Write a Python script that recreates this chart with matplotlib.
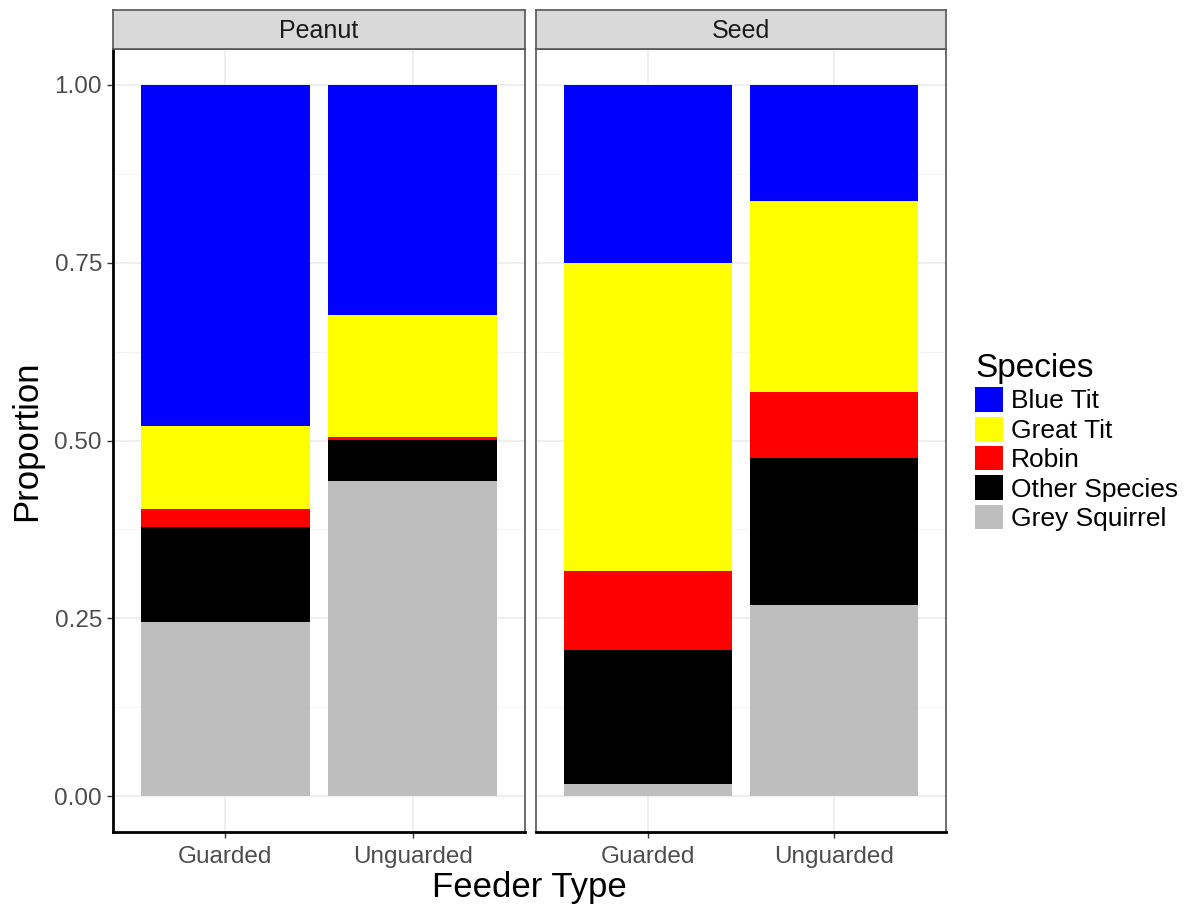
import numpy as np
import matplotlib.pyplot as plt
from matplotlib.patches import Patch

plt.rcParams['font.family'] = ['Liberation Sans', 'DejaVu Sans']

# data (proportions, bottom to top)
feeders = ["Guarded", "Unguarded"]
foods = ["Peanut", "Seed"]
species = ["Grey Squirrel", "Other Species", "Robin", "Great Tit", "Blue Tit"]
colors = ["#BEBEBE", "#000000", "#FF0000", "#FFFF00", "#0000FF"]

peanut_guarded = [0.245, 0.133, 0.026, 0.116, 0.480]
peanut_unguarded = [0.443, 0.058, 0.004, 0.172, 0.323]
seed_guarded = [0.017, 0.188, 0.111, 0.434, 0.250]
seed_unguarded = [0.269, 0.206, 0.093, 0.268, 0.164]

panels = {
    "Peanut": [peanut_guarded, peanut_unguarded],
    "Seed": [seed_guarded, seed_unguarded],
}

W, H = 1193, 906
fig = plt.figure(figsize=(W / 100, H / 100), dpi=100)

panel_x = [(113, 525), (536, 946)]
top, bottom = 49, 832
strip_top = 10

tick_col = "#4D4D4D"
for i, food in enumerate(foods):
    x0, x1 = panel_x[i]
    ax = fig.add_axes([x0 / W, 1 - bottom / H, (x1 - x0) / W, (bottom - top) / H])
    data = np.array(panels[food])  # shape (feeder, species)
    xs = np.arange(1, len(feeders) + 1)
    base = np.zeros(len(feeders))
    for j, sp in enumerate(species):
        ax.bar(xs, data[:, j], width=0.9, bottom=base, color=colors[j],
               linewidth=0, zorder=2)
        base += data[:, j]
    ax.set_xlim(0.4, 2.6)
    ax.set_ylim(-0.05, 1.05)
    ax.set_xticks(xs)
    ax.set_xticklabels(feeders, fontsize=17.5, color=tick_col)
    ax.set_yticks([0, 0.25, 0.5, 0.75, 1.0])
    ax.set_yticks([0.125, 0.375, 0.625, 0.875], minor=True)
    ax.grid(True, which='major', color='#EBEBEB', linewidth=1.1, zorder=0)
    ax.grid(True, which='minor', axis='y', color='#F3F3F3', linewidth=0.6, zorder=0)
    ax.set_axisbelow(True)
    ax.tick_params(axis='x', length=4, width=1, color='#333333', pad=6)
    ax.tick_params(axis='y', which='minor', length=0)
    if i == 0:
        ax.set_yticklabels(["0.00", "0.25", "0.50", "0.75", "1.00"],
                           fontsize=17.5, color=tick_col)
        ax.tick_params(axis='y', length=4, width=1, color='#333333', pad=4)
        ax.set_ylabel("Proportion", fontsize=25, labelpad=8)
    else:
        ax.tick_params(axis='y', length=0, labelleft=False)
    for side in ['top', 'right']:
        ax.spines[side].set_color('#555555')
        ax.spines[side].set_linewidth(1.2)
    ax.spines['bottom'].set_color('black')
    ax.spines['bottom'].set_linewidth(2)
    if i == 0:
        ax.spines['left'].set_color('black')
        ax.spines['left'].set_linewidth(2)
    else:
        ax.spines['left'].set_color('#555555')
        ax.spines['left'].set_linewidth(1.2)

    # facet strip
    sax = fig.add_axes([x0 / W, 1 - top / H, (x1 - x0) / W, (top - strip_top) / H])
    sax.set_facecolor('#D9D9D9')
    sax.set_xticks([])
    sax.set_yticks([])
    for s in sax.spines.values():
        s.set_color('#555555')
        s.set_linewidth(1.2)
    sax.text(0.5, 0.45, food, ha='center', va='center', fontsize=18,
             color='#1A1A1A', transform=sax.transAxes)

fig.text((113 + 946) / 2 / W, 1 - 887 / H, "Feeder Type", ha='center',
         va='center', fontsize=25)

handles = [Patch(facecolor=colors[j], edgecolor='none', label=species[j])
           for j in reversed(range(len(species)))]
leg = fig.legend(handles=handles, loc='upper left',
                 bbox_to_anchor=(975 / W, 1 - 353 / H), frameon=False,
                 title="Species", title_fontsize=24, fontsize=19,
                 handlelength=1.05, handleheight=1.05, handletextpad=0.3,
                 labelspacing=0.12, borderpad=0, borderaxespad=0,
                 alignment='left')

fig.savefig("out.png", dpi=100)
